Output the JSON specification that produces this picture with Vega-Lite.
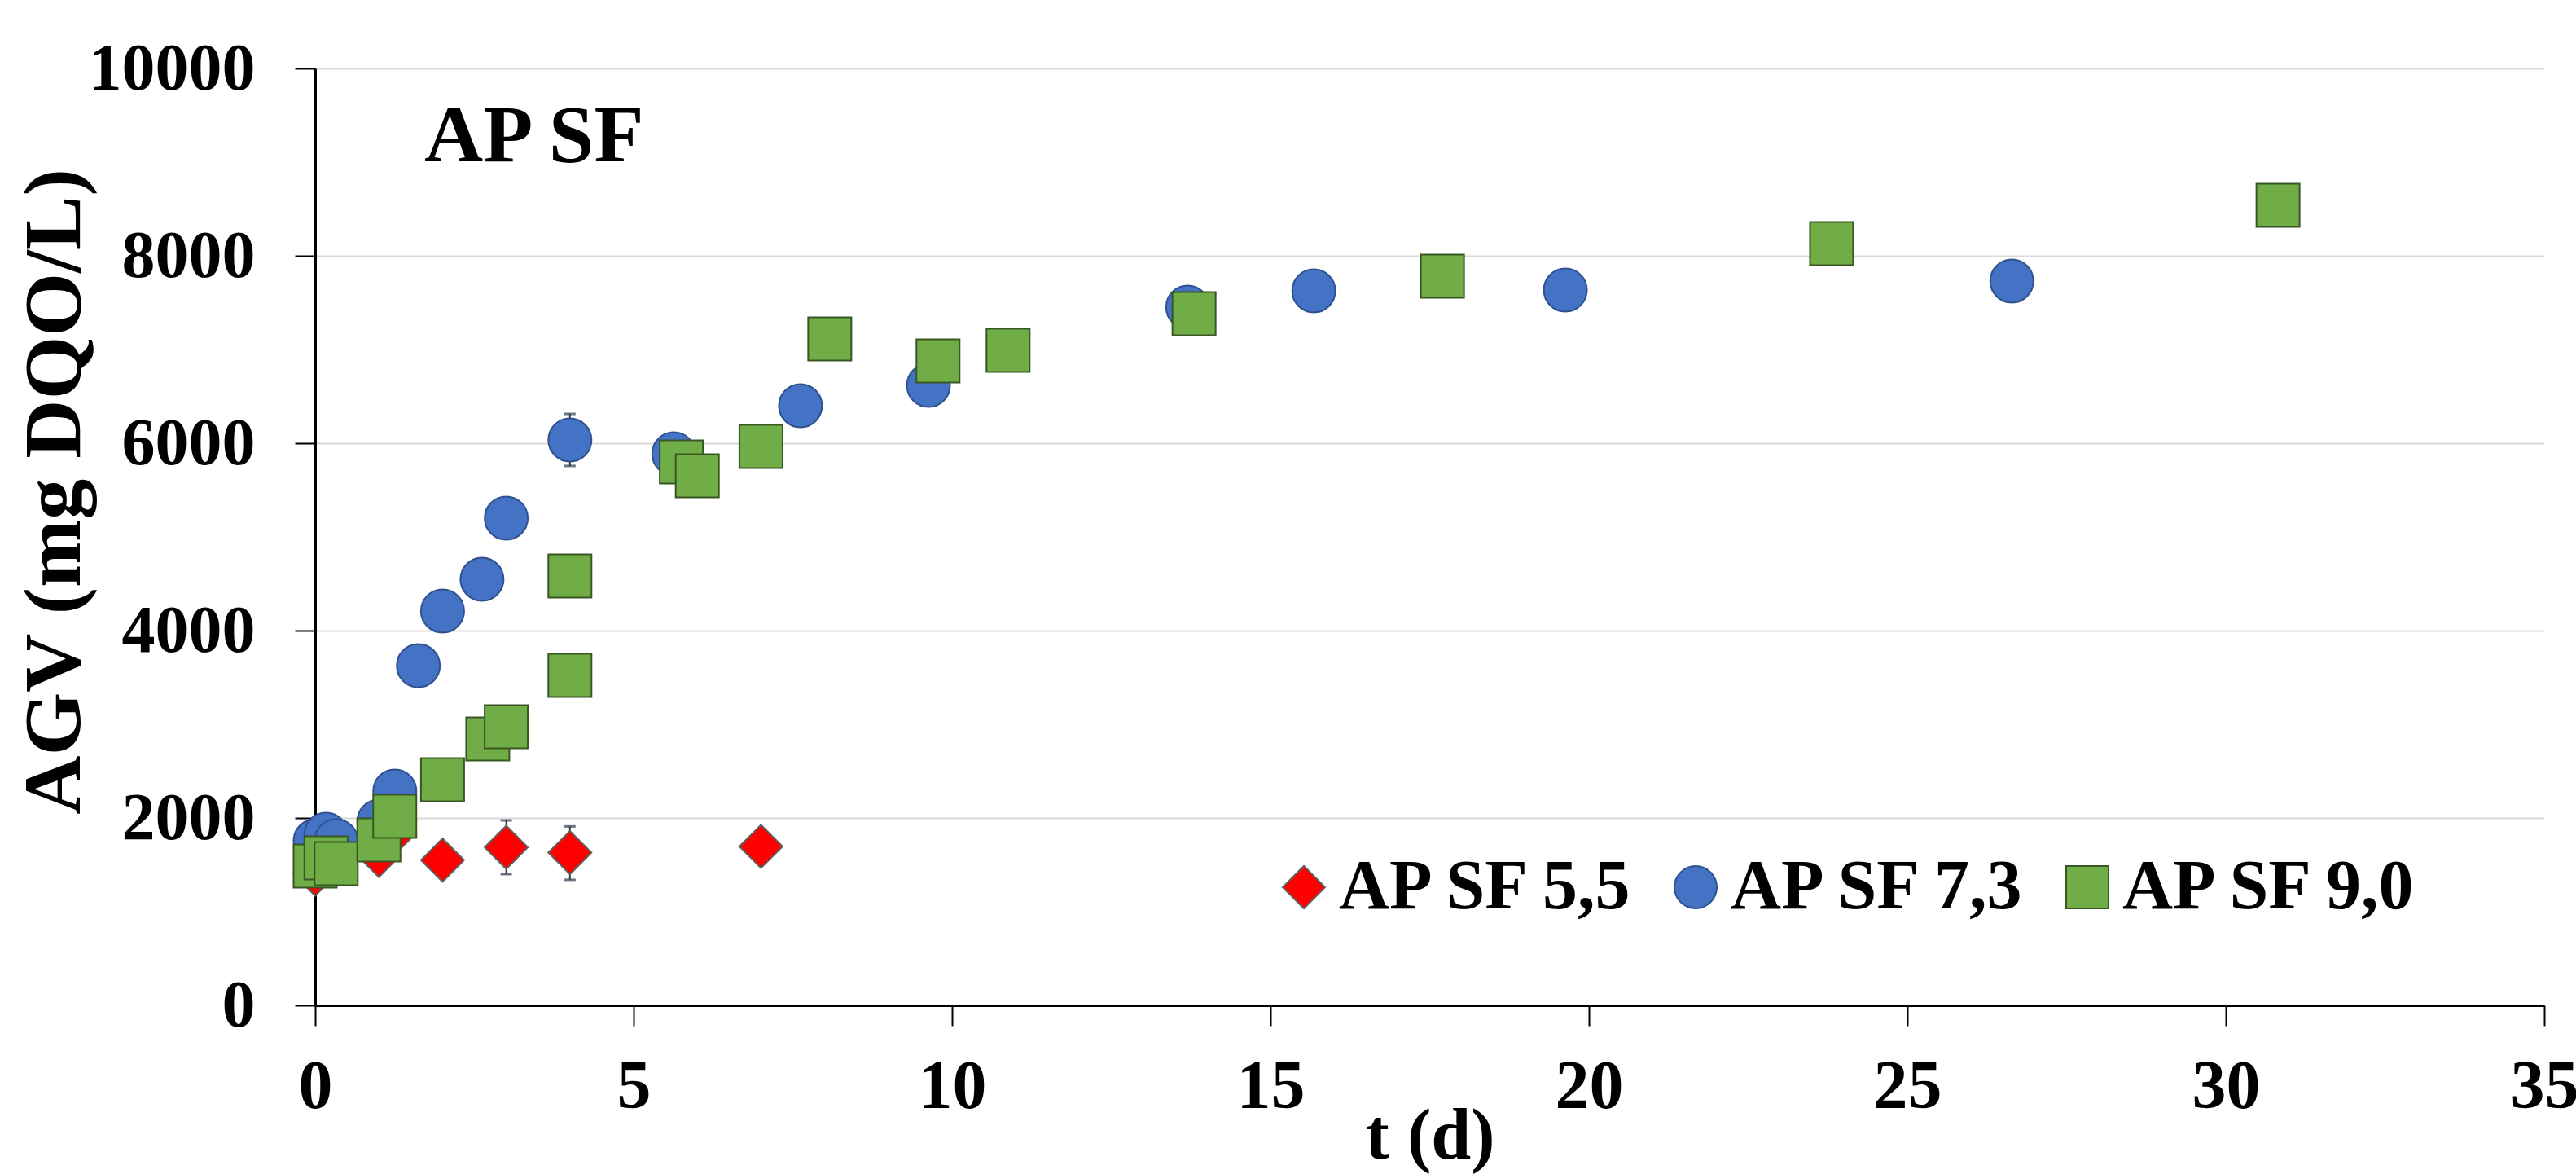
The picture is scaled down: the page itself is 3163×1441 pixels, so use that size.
{
  "$schema": "https://vega.github.io/schema/vega-lite/v6.json",
  "autosize": "none",
  "width": 2737,
  "height": 1150,
  "padding": {"left": 387, "top": 84, "right": 39, "bottom": 207},
  "background": "white",
  "title": {
    "text": "AP SF",
    "anchor": "start",
    "frame": "group",
    "orient": "top",
    "font": "Liberation Serif",
    "fontSize": 100,
    "fontWeight": "bold",
    "color": "black",
    "baseline": "alphabetic",
    "offset": 0,
    "dx": 134,
    "dy": 255
  },
  "config": {
    "view": {"stroke": null},
    "axis": {
      "labelFont": "Liberation Serif",
      "labelFontWeight": "bold",
      "labelColor": "black",
      "labelLimit": 500,
      "labelFlush": false,
      "titleFont": "Liberation Serif",
      "titleFontWeight": "bold",
      "titleColor": "black",
      "titleLimit": 2000,
      "domainColor": "black",
      "domainWidth": 3,
      "tickColor": "black",
      "tickWidth": 2,
      "tickSize": 25
    },
    "legend": {
      "labelFont": "Liberation Serif",
      "labelFontWeight": "bold",
      "labelFontSize": 86,
      "labelColor": "black",
      "labelLimit": 0
    }
  },
  "datasets": {
    "pts": [
      {"serie": "AP SF 5,5", "t": 0, "v": 1400},
      {"serie": "AP SF 5,5", "t": 1.0, "v": 1600},
      {"serie": "AP SF 5,5", "t": 1.25, "v": 1840},
      {"serie": "AP SF 5,5", "t": 2.0, "v": 1550},
      {"serie": "AP SF 5,5", "t": 3.0, "v": 1687},
      {"serie": "AP SF 5,5", "t": 4.0, "v": 1630},
      {"serie": "AP SF 5,5", "t": 7.0, "v": 1696},
      {"serie": "AP SF 7,3", "t": 0, "v": 1757},
      {"serie": "AP SF 7,3", "t": 0.17, "v": 1826},
      {"serie": "AP SF 7,3", "t": 0.33, "v": 1757},
      {"serie": "AP SF 7,3", "t": 1.0, "v": 1965},
      {"serie": "AP SF 7,3", "t": 1.25, "v": 2287},
      {"serie": "AP SF 7,3", "t": 1.62, "v": 3626},
      {"serie": "AP SF 7,3", "t": 2.0, "v": 4209},
      {"serie": "AP SF 7,3", "t": 2.62, "v": 4548},
      {"serie": "AP SF 7,3", "t": 3.0, "v": 5200},
      {"serie": "AP SF 7,3", "t": 4.0, "v": 6035},
      {"serie": "AP SF 7,3", "t": 5.63, "v": 5887},
      {"serie": "AP SF 7,3", "t": 7.62, "v": 6400},
      {"serie": "AP SF 7,3", "t": 9.63, "v": 6617},
      {"serie": "AP SF 7,3", "t": 13.7, "v": 7452},
      {"serie": "AP SF 7,3", "t": 15.68, "v": 7626},
      {"serie": "AP SF 7,3", "t": 19.63, "v": 7635},
      {"serie": "AP SF 7,3", "t": 26.64, "v": 7730},
      {"serie": "AP SF 9,0", "t": 0, "v": 1487},
      {"serie": "AP SF 9,0", "t": 0.17, "v": 1574},
      {"serie": "AP SF 9,0", "t": 0.33, "v": 1513},
      {"serie": "AP SF 9,0", "t": 1.0, "v": 1765},
      {"serie": "AP SF 9,0", "t": 1.25, "v": 2017},
      {"serie": "AP SF 9,0", "t": 2.0, "v": 2409},
      {"serie": "AP SF 9,0", "t": 2.71, "v": 2843},
      {"serie": "AP SF 9,0", "t": 3.0, "v": 2974},
      {"serie": "AP SF 9,0", "t": 4.0, "v": 3522},
      {"serie": "AP SF 9,0", "t": 4.0, "v": 4583},
      {"serie": "AP SF 9,0", "t": 5.75, "v": 5800},
      {"serie": "AP SF 9,0", "t": 6.0, "v": 5652},
      {"serie": "AP SF 9,0", "t": 7.0, "v": 5965},
      {"serie": "AP SF 9,0", "t": 8.08, "v": 7113},
      {"serie": "AP SF 9,0", "t": 9.78, "v": 6878},
      {"serie": "AP SF 9,0", "t": 10.88, "v": 6991},
      {"serie": "AP SF 9,0", "t": 13.8, "v": 7383},
      {"serie": "AP SF 9,0", "t": 17.7, "v": 7783},
      {"serie": "AP SF 9,0", "t": 23.81, "v": 8130},
      {"serie": "AP SF 9,0", "t": 30.82, "v": 8539}
    ],
    "err": [
      {"t": 3.0, "lo": 1400, "hi": 1974},
      {"t": 4.0, "lo": 1340, "hi": 1910},
      {"t": 4.0, "lo": 5757, "hi": 6313}
    ]
  },
  "layer": [
    {
      "data": {"name": "err"},
      "mark": {"type": "rule", "color": "#2f3b4f", "strokeWidth": 2},
      "encoding": {
        "x": {"field": "t", "type": "quantitative", "scale": {"domain": [0, 35]}},
        "y": {"field": "lo", "type": "quantitative", "scale": {"domain": [0, 10000]}},
        "y2": {"field": "hi"}
      }
    },
    {
      "data": {"name": "err"},
      "mark": {"type": "tick", "color": "#2f3b4f", "orient": "horizontal", "size": 14, "thickness": 3},
      "encoding": {
        "x": {"field": "t", "type": "quantitative"},
        "y": {"field": "lo", "type": "quantitative"}
      }
    },
    {
      "data": {"name": "err"},
      "mark": {"type": "tick", "color": "#2f3b4f", "orient": "horizontal", "size": 14, "thickness": 3},
      "encoding": {
        "x": {"field": "t", "type": "quantitative"},
        "y": {"field": "hi", "type": "quantitative"}
      }
    },
    {
      "data": {"name": "pts"},
      "mark": {"type": "point", "filled": true, "opacity": 1, "size": 2809, "strokeWidth": 2},
      "encoding": {
        "x": {
          "field": "t", "type": "quantitative",
          "scale": {"domain": [0, 35], "nice": false, "zero": false},
          "axis": {
            "values": [0, 5, 10, 15, 20, 25, 30, 35],
            "format": "d",
            "grid": false,
            "labelFontSize": 84,
            "labelPadding": 34,
            "title": "t (d)",
            "titleFontSize": 88,
            "titleBaseline": "alphabetic",
            "titleY": 187
          }
        },
        "y": {
          "field": "v", "type": "quantitative",
          "scale": {"domain": [0, 10000], "nice": false},
          "axis": {
            "values": [0, 2000, 4000, 6000, 8000, 10000],
            "grid": true,
            "gridColor": "#d9d9d9",
            "gridWidth": 2,
            "labelFontSize": 82,
            "labelPadding": 49,
            "format": "d",
            "title": "AGV (mg DQO/L)",
            "titleFontSize": 100,
            "titleAngle": -90,
            "titleBaseline": "alphabetic",
            "titleAlign": "center",
            "titleX": -290,
            "titleY": 519
          }
        },
        "shape": {
          "field": "serie", "type": "nominal",
          "scale": {"domain": ["AP SF 5,5", "AP SF 7,3", "AP SF 9,0"], "range": ["diamond", "circle", "square"]},
          "legend": {
            "title": null,
            "orient": "none",
            "direction": "horizontal",
            "legendX": 1171,
            "legendY": 962,
            "symbolSize": 2704,
            "symbolStrokeWidth": 2,
            "labelOffset": 0,
            "columnPadding": 29,
            "padding": 0
          }
        },
        "fill": {
          "field": "serie", "type": "nominal",
          "scale": {"domain": ["AP SF 5,5", "AP SF 7,3", "AP SF 9,0"], "range": ["#ff0000", "#4472c4", "#70ad47"]}
        },
        "stroke": {
          "field": "serie", "type": "nominal",
          "scale": {"domain": ["AP SF 5,5", "AP SF 7,3", "AP SF 9,0"], "range": ["#5f5f5f", "#2f528f", "#385723"]}
        }
      }
    }
  ]
}
